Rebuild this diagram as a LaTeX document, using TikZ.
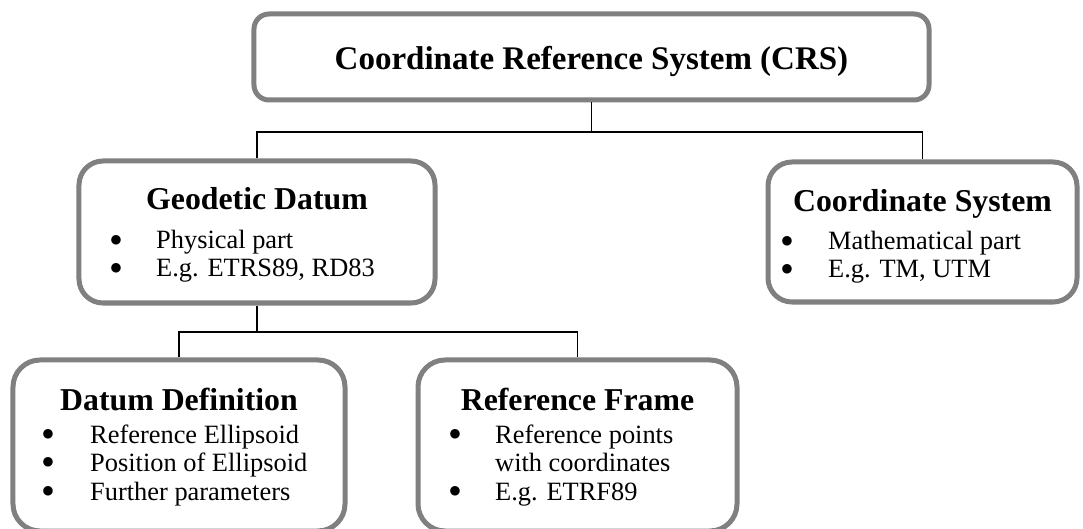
\documentclass[tikz,border=0pt]{standalone}
\usepackage{fontspec}
\setmainfont{Liberation Serif}
\newfontfamily\bulfont{DejaVu Sans}
\definecolor{boxgray}{RGB}{128,128,128}
\begin{document}
\begin{tikzpicture}[x=1bp,y=-1bp,
  box/.style={draw=boxgray, line width=5bp, fill=white, inner sep=0pt},
  conn/.style={draw=black, line width=1.6bp},
  ttl/.style={font=\fontsize{31.8bp}{36bp}\selectfont\bfseries, anchor=base, inner sep=0pt},
  crsttl/.style={font=\fontsize{33bp}{38bp}\selectfont\bfseries, anchor=base, inner sep=0pt},
  itm/.style={font=\fontsize{26.4bp}{30bp}\selectfont, anchor=base west, inner sep=0pt},
  bul/.style={font=\bulfont\fontsize{12.5bp}{14bp}\selectfont, anchor=center, inner sep=0pt, yshift=9bp}]
\useasboundingbox (0,0) rectangle (1083,529);
\begin{scope}
\clip (0,0) rectangle (1083,529);
% boxes
\node[box, rounded corners=15bp, minimum width=675bp, minimum height=86bp] (crs) at (591.5,57) {};
\node[box, rounded corners=24bp, minimum width=356bp, minimum height=142bp] (geo) at (257,232) {};
\node[box, rounded corners=24bp, minimum width=309bp, minimum height=140bp] (cs) at (922.5,232) {};
\node[box, rounded corners=27bp, minimum width=332bp, minimum height=171bp] (dd) at (179,445.5) {};
\node[box, rounded corners=27bp, minimum width=319bp, minimum height=171bp] (rf) at (577.5,445.5) {};
% connectors
\coordinate (j1) at (591.5,132);
\coordinate (j2) at (257,332);
\draw[conn] (crs.south) -- (j1);
\draw[conn] (geo.north) |- (j1) -| (cs.north);
\draw[conn] (geo.south) -- (j2);
\draw[conn] (dd.north) |- (j2) -| (rf.north);
% texts
\node[crsttl] (crst) at (591.5,70) {Coordinate Reference System (CRS)};
\node[ttl] (geot) at (257,210) {Geodetic Datum};
\node[bul] (geob1) at (116,249) {●};
\node[itm] (geoi1) at (156,249) {Physical part};
\node[bul] (geob2) at (116,277) {●};
\node[itm] (geoi2) at (156,277) {E.g. ETRS89, RD83};
\node[ttl] (cst) at (922.5,212) {Coordinate System};
\node[bul] (csb1) at (787,250) {●};
\node[itm] (csi1) at (828,250) {Mathematical part};
\node[bul] (csb2) at (787,278) {●};
\node[itm] (csi2) at (828,278) {E.g. TM, UTM};
\node[ttl] (ddt) at (179,410) {Datum Definition};
\node[bul] (ddb1) at (48,443) {●};
\node[itm] (ddi1) at (90,443) {Reference Ellipsoid};
\node[bul] (ddb2) at (48,471.5) {●};
\node[itm] (ddi2) at (90,471.5) {Position of Ellipsoid};
\node[bul] (ddb3) at (48,500) {●};
\node[itm] (ddi3) at (90,500) {Further parameters};
\node[ttl] (rft) at (577.5,410) {Reference Frame};
\node[bul] (rfb1) at (455,443) {●};
\node[itm] (rfi1) at (495,443) {Reference points};
\node[itm] (rfi1b) at (495,471.5) {with coordinates};
\node[bul] (rfb2) at (455,500) {●};
\node[itm] (rfi2) at (495,500) {E.g. ETRF89};
\end{scope}
\end{tikzpicture}
\end{document}
